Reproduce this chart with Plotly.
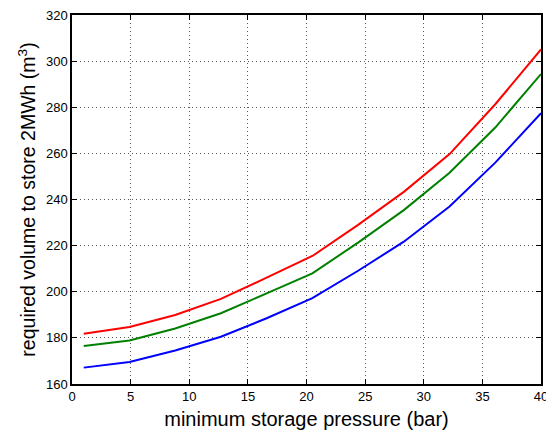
import plotly.graph_objects as go

# Minimum storage pressure (bar)
pressure = [1, 4.9, 8.8, 12.7, 16.6, 20.5, 24.4, 28.3, 32.2, 36.1, 40]

# Required volume to store 2 MWh (m^3) for three cases
vol_red = [181.8, 184.7, 189.9, 196.9, 206.1, 215.5, 229.0, 243.3, 259.7, 281.3, 305.1]
vol_green = [176.5, 178.9, 184.1, 190.7, 199.3, 208.0, 221.3, 235.4, 251.6, 271.2, 294.4]
vol_blue = [167.1, 169.5, 174.5, 180.5, 188.5, 197.2, 209.1, 221.7, 237.0, 256.0, 277.4]

x_ticks = [0, 5, 10, 15, 20, 25, 30, 35, 40]
y_ticks = [160, 180, 200, 220, 240, 260, 280, 300, 320]

FONT = "Liberation Sans, Arial, Helvetica"

fig = go.Figure()
for ys, col in [(vol_blue, "#0000ff"), (vol_green, "#008000"), (vol_red, "#ff0000")]:
    fig.add_trace(go.Scatter(x=pressure, y=ys, mode="lines",
                             line=dict(color=col, width=2), showlegend=False))

axis_common = dict(
    showline=True, linecolor="black", linewidth=1.5, mirror="ticks",
    ticks="inside", ticklen=5, tickwidth=1, tickcolor="black",
    showgrid=True, gridcolor="#555555", griddash="1px,3px", gridwidth=1,
    zeroline=False, ticklabeloverflow="allow", automargin=False,
    tickfont=dict(family=FONT, size=13, color="black"),
)

fig.update_xaxes(range=[0, 40], tickvals=x_ticks,
                 title=dict(text="minimum storage pressure (bar)", standoff=10,
                            font=dict(family=FONT, size=20, color="black")),
                 **axis_common)
fig.update_yaxes(range=[160, 320], tickvals=y_ticks,
                 title=dict(text="required volume to store 2MWh (m<sup>3</sup>)", standoff=5,
                            font=dict(family=FONT, size=19.5, color="black")),
                 **axis_common)

fig.update_layout(
    width=546, height=430,
    margin=dict(l=72, r=5, t=15, b=46),
    paper_bgcolor="white", plot_bgcolor="white",
)

fig.write_html("out.html")
